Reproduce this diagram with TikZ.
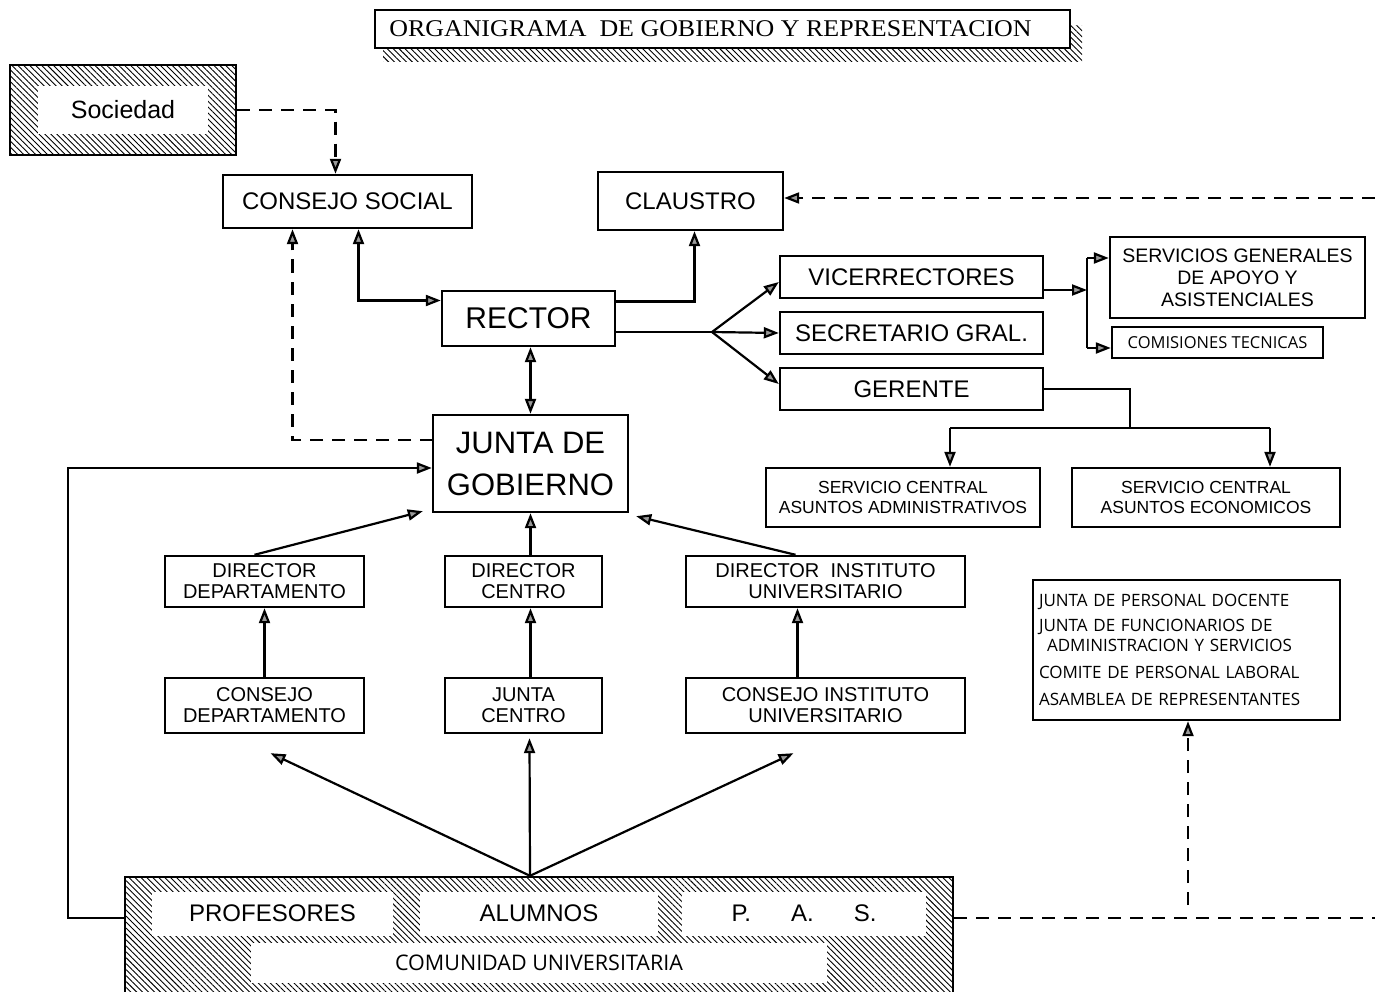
\documentclass[tikz,border=0pt]{standalone}
\usepackage{fontspec}
\setmainfont{Liberation Sans}
\newfontfamily\osans{Open Sans}
\newfontfamily\tserif{Liberation Serif}[FakeStretch=1.08]
\usetikzlibrary{arrows.meta,patterns.meta,calc}
\newcommand\fsz[2]{\fontsize{#1}{#2}\selectfont}
\begin{document}
\begin{tikzpicture}[x=1pt,y=-1pt,
  >={Triangle[length=15pt,width=11pt,fill=gray!80]},
  box/.style={draw, line width=2.4pt, fill=white, inner sep=0pt, align=center},
  hatch/.style={pattern={Lines[angle=-45,distance=4.2pt,line width=0.9pt]}},
  wlab/.style={fill=white, inner sep=0pt, align=center, font=\fsz{24}{26}},
  ln/.style={line width=2.2pt},
  dsh/.style={line width=2.2pt, dash pattern=on 13pt off 9pt},
  big/.style={font=\fsz{24}{26}},
  mid/.style={font=\fsz{20}{21}},
  sml/.style={font=\fsz{17.5}{20}}]
\fill[white] (0,0) rectangle (1375,992);
\useasboundingbox (0,0) rectangle (1375,992);

% title
\fill[hatch] (383,26) rectangle (1082,62);
\node[box, line width=1.6pt, minimum width=695, minimum height=38, font=\tserif\fsz{24}{26}] (title) at (722.5,29) {ORGANIGRAMA\ \ DE GOBIERNO Y REPRESENTACION\hspace*{24pt}};

% Sociedad
\node[draw, line width=2.4pt, hatch, minimum width=226, minimum height=90, inner sep=0pt] (soc) at (123,110) {};
\node[fill=white, minimum width=170, minimum height=48, inner sep=0pt, font=\fsz{25}{28}] (socl) at (soc) {Sociedad};

% upper boxes
\node[box, big, minimum width=249, minimum height=53] (cs) at (347.5,201.5) {CONSEJO SOCIAL};
\node[box, big, minimum width=185, minimum height=58] (cl) at (690.5,201) {CLAUSTRO};
\node[box, font=\fsz{30}{32}, minimum width=173, minimum height=55] (rec) at (528.5,318.5) {RECTOR};
\node[box, font=\fsz{31}{42}, minimum width=195, minimum height=97] (jg) at (530.5,463.5) {JUNTA DE\\GOBIERNO};
\node[box, big, minimum width=263, minimum height=42] (vic) at (911.5,277) {VICERRECTORES};
\node[box, big, minimum width=263, minimum height=42] (sec) at (911.5,333) {SECRETARIO GRAL.};
\node[box, big, minimum width=263, minimum height=42] (ger) at (911.5,389) {GERENTE};
\node[box, font=\fsz{19.5}{22}, minimum width=255, minimum height=81] (sg) at (1237.5,277.5) {SERVICIOS GENERALES\\DE APOYO Y\\ASISTENCIALES};
\node[box, font=\osans\fsz{16.5}{18}, minimum width=211, minimum height=31] (ct) at (1217.5,342.5) {COMISIONES TECNICAS};
\node[box, sml, minimum width=274, minimum height=59] (sca) at (903,497.5) {SERVICIO CENTRAL\\ASUNTOS ADMINISTRATIVOS};
\node[box, sml, minimum width=268, minimum height=59] (sce) at (1206,497.5) {SERVICIO CENTRAL\\ASUNTOS ECONOMICOS};

% directors and councils
\node[box, mid, minimum width=199, minimum height=51] (dd) at (264.5,581.5) {DIRECTOR\\DEPARTAMENTO};
\node[box, mid, minimum width=157, minimum height=51] (dc) at (523.5,581.5) {DIRECTOR\\CENTRO};
\node[box, mid, minimum width=279, minimum height=51] (di) at (825.5,581.5) {DIRECTOR\ \ INSTITUTO\\UNIVERSITARIO};
\node[box, mid, minimum width=199, minimum height=55] (cd) at (264.5,705.5) {CONSEJO\\DEPARTAMENTO};
\node[box, mid, minimum width=157, minimum height=55] (jc) at (523.5,705.5) {JUNTA\\CENTRO};
\node[box, mid, minimum width=279, minimum height=55] (ci) at (825.5,705.5) {CONSEJO INSTITUTO\\UNIVERSITARIO};

% representation box
\node[box, font=\osans\fsz{17}{20}, minimum width=307, minimum height=140, text width=295, inner xsep=6pt, align=left] (jp) at (1186.5,650) {JUNTA DE PERSONAL DOCENTE\\[5pt]JUNTA DE FUNCIONARIOS DE\\\hspace*{8pt}ADMINISTRACION Y SERVICIOS\\[7pt]COMITE DE PERSONAL LABORAL\\[7pt]ASAMBLEA DE REPRESENTANTES};

% comunidad universitaria
\node[draw, line width=2.4pt, hatch, minimum width=828, minimum height=118, inner sep=0pt] (com) at (539,936) {};
\node[wlab, minimum width=241, minimum height=44] (prof) at (272.5,913.5) {PROFESORES};
\node[wlab, minimum width=238, minimum height=44] (alum) at (539,913.5) {ALUMNOS};
\node[wlab, minimum width=244, minimum height=44] (pas) at (804,913.5) {P.\hspace{40pt}A.\hspace{40pt}S.};
\node[wlab, minimum width=576, minimum height=40, font=\osans\fsz{21.5}{22}] (cu) at (539,963) {COMUNIDAD UNIVERSITARIA};

% connectors
\draw[dsh,->] (soc.east) -| ([xshift=-12pt]cs.north);
\coordinate (re1) at (1375,198);
\draw[dsh,->] (re1) -- (cl.east |- re1);
\coordinate (jgd) at (433,440);
\draw[dsh,->] (jgd) -| ([xshift=-55pt]cs.south);
\draw[ln,<->] ([xshift=11pt]cs.south) |- ([yshift=18pt]rec.west);
\draw[ln,->] ([yshift=17pt]rec.east) -| ([xshift=4pt]cl.south);
\coordinate (fan) at (712,332);
\draw[ln] ([yshift=-13.5pt]rec.east) -- (fan);
\draw[ln,->] (fan) -- ([yshift=-5pt]vic.west);
\draw[ln,->] (fan) -- (sec.west);
\draw[ln,->] (fan) -- ([yshift=5pt]ger.west);
\coordinate (vt) at (1087,258);
\coordinate (vbm) at (1087,348);
\coordinate (vo) at ([yshift=-13pt]vic.east);
\draw[ln] (vt) -- (vbm);
\draw[ln,->] (vo) -- (vo -| vt);
\draw[ln,->] (vt) -- (vt -| sg.west);
\draw[ln,->] (vbm) -- (vbm -| ct.west);
\coordinate (gj) at (1130,428);
\coordinate (gl) at (950,428);
\coordinate (gr) at (1270,428);
\draw[ln] (ger.east) -| (gj);
\draw[ln] (gl) -- (gr);
\draw[ln,->] (gl) -- (gl |- sca.north);
\draw[ln,->] (gr) -- (gr |- sce.north);
\draw[ln,<->] (jg.north) -- (jg.north |- rec.south);
\coordinate (lb) at (68,918);
\coordinate (lt) at (68,468);
\draw[ln,->] (com.west |- lb) -- (lb) -- (lt) -- (lt -| jg.west);
\draw[ln,->] ([xshift=-10pt]dd.north) -- ([xshift=-9pt,yshift=2pt]jg.south west);
\draw[ln,->] (jg.south |- dc.north) -- (jg.south);
\draw[ln,->] ([xshift=-30pt]di.north) -- ([xshift=7pt,yshift=-3pt]jg.south east);
\draw[ln,->] (cd.north) -- (dd.south);
\draw[ln,->] ([xshift=7pt]jc.north) -- ([xshift=7pt]dc.south);
\draw[ln,->] ([xshift=-28pt]ci.north) -- ([xshift=-28pt]di.south);
\coordinate (bf) at ([xshift=-9pt]com.north);
\draw[ln,->] (bf) -- ([xshift=6pt,yshift=-19pt]cd.south);
\draw[ln,->] (bf) -- ([xshift=6pt,yshift=-4pt]jc.south);
\draw[ln,->] (bf) -- ([xshift=-32pt,yshift=-19pt]ci.south);
\coordinate (re2) at (1375,918);
\draw[dsh] (com.east |- re2) -- (re2);
\coordinate (pd) at (1188,905);
\draw[dsh,->] (pd) -- (pd |- jp.south);
\end{tikzpicture}
\end{document}
